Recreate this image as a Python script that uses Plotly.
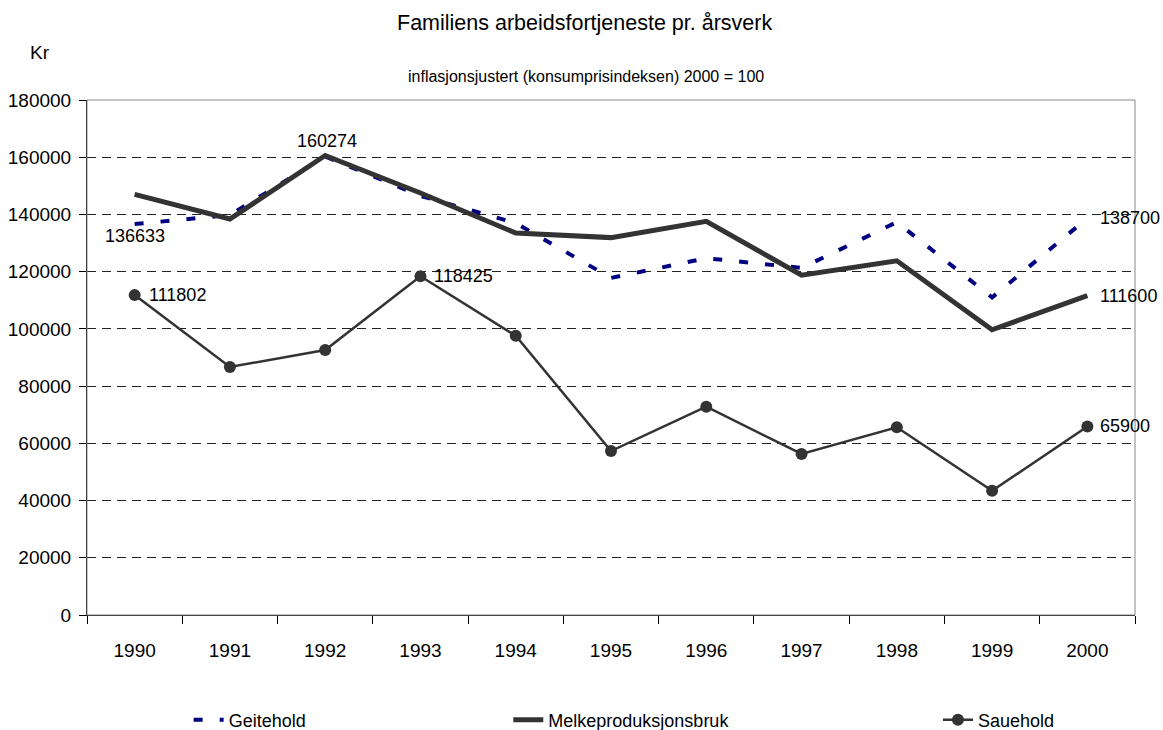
import plotly.graph_objects as go

# values (kr per årsverk, inflation adjusted)
YEARS = ["1990", "1991", "1992", "1993", "1994", "1995",
         "1996", "1997", "1998", "1999", "2000"]
GEITEHOLD = [136633, 139800, 160274, 146500, 137000, 117800,
             124700, 121300, 137300, 111000, 138700]
MELKEPRODUKSJONSBRUK = [147000, 138400, 160600, 147500, 133500, 131900,
                        137600, 118800, 123800, 99700, 111600]
SAUEHOLD = [111802, 86700, 92600, 118425, 97600, 57300,
            72800, 56300, 65600, 43400, 65900]
Y_TICKS = [0, 20000, 40000, 60000, 80000, 100000, 120000, 140000, 160000, 180000]

FONT = "Liberation Sans, Arial, sans-serif"
DARK = "#333333"
NAVY = "#000080"

fig = go.Figure()

fig.add_trace(go.Scatter(
    x=YEARS, y=GEITEHOLD, name="Geitehold", mode="lines",
    line=dict(color=NAVY, width=4, dash="9px,17px"),
    legend="legend", showlegend=True,
))
fig.add_trace(go.Scatter(
    x=YEARS, y=MELKEPRODUKSJONSBRUK, name="Melkeproduksjonsbruk", mode="lines",
    line=dict(color=DARK, width=5),
    legend="legend2", showlegend=True,
))
fig.add_trace(go.Scatter(
    x=YEARS, y=SAUEHOLD, name="Sauehold", mode="lines+markers",
    line=dict(color=DARK, width=2.5),
    marker=dict(color=DARK, size=12),
    legend="legend3", showlegend=True,
))

# data labels: (series, index, xanchor, xshift, yshift)
labels = [
    (GEITEHOLD, 0, "center", 0, -12),
    (GEITEHOLD, 2, "center", 2, 15),
    (GEITEHOLD, 10, "left", 11, 0),
    (MELKEPRODUKSJONSBRUK, 10, "left", 11, 0),
    (SAUEHOLD, 0, "left", 12, 0),
    (SAUEHOLD, 3, "left", 12, 0),
    (SAUEHOLD, 10, "left", 11, 0),
]
annotations = []
for series, i, xa, xs, ys in labels:
    # category axis: position by category index
    annotations.append(dict(
        x=i, y=series[i], xref="x", yref="y", text=str(series[i]),
        showarrow=False, xanchor=xa, yanchor="middle", xshift=xs, yshift=ys,
        font=dict(family=FONT, size=18, color="black"),
    ))

annotations += [
    dict(x=0.475, y=1.1495, xref="paper", yref="paper", showarrow=False,
         text="Familiens arbeidsfortjeneste pr. årsverk",
         font=dict(family=FONT, size=21.5, color="black"),
         xanchor="center", yanchor="middle"),
    dict(x=0.476, y=1.0466, xref="paper", yref="paper", showarrow=False,
         text="inflasjonsjustert (konsumprisindeksen) 2000 = 100",
         font=dict(family=FONT, size=16, color="black"),
         xanchor="center", yanchor="middle"),
    dict(x=-0.0448, y=1.0932, xref="paper", yref="paper", showarrow=False,
         text="Kr", font=dict(family=FONT, size=19, color="black"),
         xanchor="center", yanchor="middle"),
]

legend_style = dict(orientation="h", y=-0.204, yanchor="middle", xanchor="left",
                    bgcolor="rgba(0,0,0,0)",
                    font=dict(family=FONT, size=18, color="black"))

fig.update_layout(
    width=1163,
    height=730,
    margin=dict(l=87, r=28, t=100, b=115, autoexpand=False),
    paper_bgcolor="white",
    plot_bgcolor="white",
    showlegend=True,
    font=dict(family=FONT, size=19, color="black"),
    annotations=annotations,
    legend=dict(x=0.097, **legend_style),
    legend2=dict(x=0.402, **legend_style),
    legend3=dict(x=0.812, **legend_style),
    shapes=[dict(type="rect", xref="paper", yref="paper", x0=0, x1=1, y0=0, y1=1,
                 line=dict(color="#888888", width=1), layer="above")],
)

fig.update_xaxes(
    type="category", categoryorder="array", categoryarray=YEARS,
    range=[-0.5, len(YEARS) - 0.5],
    showline=True, linecolor="black", linewidth=1,
    ticks="outside", tickson="boundaries", ticklen=8, tickcolor="black",
    ticklabelstandoff=18,
    showgrid=False, zeroline=False, automargin=False,
    tickfont=dict(family=FONT, size=19, color="black"),
)
fig.update_yaxes(
    range=[0, 180000], tickvals=Y_TICKS, tickformat="d",
    showline=True, linecolor="black", linewidth=1,
    ticks="outside", ticklen=7, tickcolor="black",
    ticklabelstandoff=4,
    showgrid=True, gridcolor="#222222", gridwidth=1, griddash="9px,6px",
    zeroline=False, automargin=False,
    tickfont=dict(family=FONT, size=19, color="black"),
)

# drop the browser's default 8px body margin so the figure fills the window
fig.write_html("out.html", config={"displayModeBar": False},
               post_script="document.body.style.margin = '0';")
